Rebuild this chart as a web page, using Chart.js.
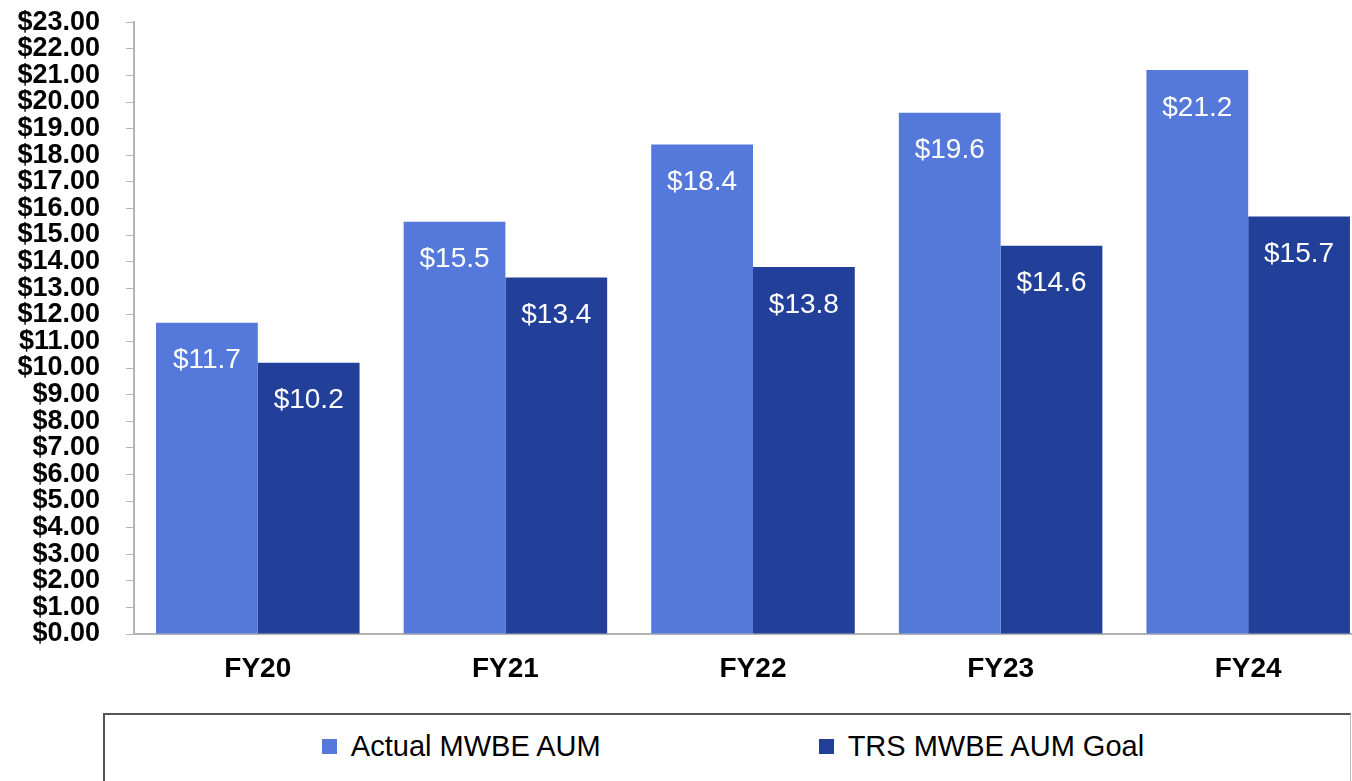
<!DOCTYPE html>
<html>
<head>
<meta charset="utf-8">
<script src="https://cdn.jsdelivr.net/npm/chart.js@4/dist/chart.umd.min.js"></script>
<style>
  html, body { margin: 0; padding: 0; background: #fff; overflow: hidden; width: 1352px; height: 781px; }
  #wrap { position: absolute; left: 0; top: -20px; width: 1372px; height: 720px; }
  #legend {
    position: absolute; left: 103px; top: 713px; width: 1245px; height: 100px;
    border-top: 2px solid #555; border-left: 2px solid #555; border-right: 1px solid #bbb;
    font-family: "Liberation Sans", Arial, sans-serif; font-size: 29px; color: #000;
  }
  #legend .items { position: absolute; left: 11px; right: 0; top: 15px; display: flex; justify-content: center; gap: 218px; }
  #legend .item { display: flex; align-items: center; }
  #legend .sw { width: 15px; height: 15px; margin-right: 14px; }
</style>
</head>
<body>
<div id="wrap"><canvas id="chart" width="1372" height="720"></canvas></div>
<div id="legend"><div class="items" id="legendItems"></div></div>
<script>
// categorieen en waarden (miljard $)
const years = ["FY20", "FY21", "FY22", "FY23", "FY24"];
const actualAum = [11.7, 15.5, 18.4, 19.6, 21.2];
const goalAum = [10.2, 13.4, 13.8, 14.6, 15.7];
const seriesNames = ["Actual MWBE AUM", "TRS MWBE AUM Goal"];
const seriesColors = ["#5579DB", "#22409A"];

const fontFam = '"Liberation Sans", Arial, sans-serif';

// labels in de balken
const barLabels = {
    id: 'barLabels',
    afterDatasetsDraw(chart) {
        const ctx = chart.ctx;
        ctx.save();
        ctx.font = '28px ' + fontFam;
        ctx.fillStyle = '#ffffff';
        ctx.textAlign = 'center';
        ctx.textBaseline = 'middle';
        chart.data.datasets.forEach((ds, i) => {
            chart.getDatasetMeta(i).data.forEach((bar, j) => {
                ctx.fillText('$' + ds.data[j].toFixed(1), bar.x, bar.y + 38);
            });
        });
        ctx.restore();
    }
};

const config = {
    type: 'bar',
    data: {
        labels: years,
        datasets: [
            { label: seriesNames[0], data: actualAum, backgroundColor: seriesColors[0] },
            { label: seriesNames[1], data: goalAum, backgroundColor: seriesColors[1] },
        ]
    },
    options: {
        responsive: false,
        animation: false,
        layout: { padding: { left: 10, top: 0, right: 0, bottom: 0 } },
        datasets: { bar: { categoryPercentage: 0.822, barPercentage: 1.0 } },
        plugins: { legend: { display: false }, tooltip: { enabled: false } },
        scales: {
            y: {
                min: 0, max: 23,
                afterFit(scale) { scale.width = 124; },
                ticks: {
                    stepSize: 1, autoSkip: false, padding: 26, color: '#000',
                    font: { family: fontFam, size: 27, weight: 'bold' },
                    callback: (v) => '$' + v.toFixed(2)
                },
                grid: { drawOnChartArea: false, drawTicks: true, tickLength: 8, color: '#b3b3b3' },
                border: { display: true, color: '#b3b3b3', width: 2 }
            },
            x: {
                afterFit(scale) { scale.height = 66; },
                ticks: { padding: 10, color: '#000', font: { family: fontFam, size: 28, weight: 'bold' } },
                grid: { display: false },
                border: { display: true, color: '#b3b3b3', width: 2 }
            }
        }
    },
    plugins: [barLabels]
};

const chart = new Chart(document.getElementById('chart'), config);

// legenda in een kader onder de grafiek
const items = document.getElementById('legendItems');
chart.data.datasets.forEach((ds) => {
    const it = document.createElement('div');
    it.className = 'item';
    it.innerHTML = '<span class="sw" style="background:' + ds.backgroundColor + '"></span><span>' + ds.label + '</span>';
    items.appendChild(it);
});
</script>
</body>
</html>
